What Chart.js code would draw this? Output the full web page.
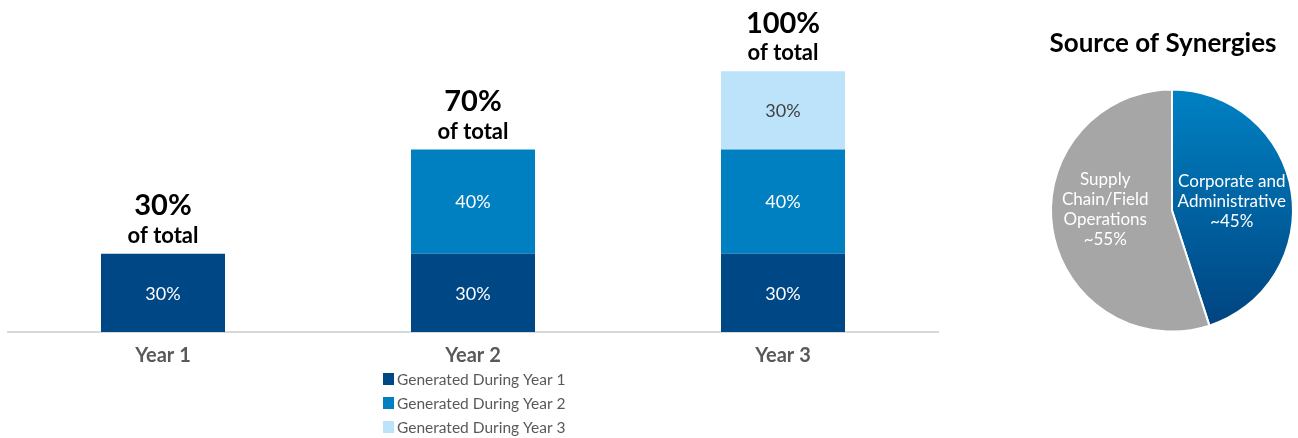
<!DOCTYPE html>
<html>
<head>
<meta charset="utf-8">
<script src="https://cdn.jsdelivr.net/npm/chart.js@4.4.1/dist/chart.umd.min.js"></script>
<style>
  html, body { margin: 0; padding: 0; background: #fff; overflow: hidden; }
  #wrap { position: relative; width: 1298px; height: 438px; }
  #barBox { position: absolute; left: 0; top: 0; width: 960px; height: 438px; }
  #pieBox { position: absolute; left: 1040px; top: 0; width: 258px; height: 438px; }
</style>
</head>
<body>
<div id="wrap">
  <div id="barBox"><canvas id="barChart"></canvas></div>
  <div id="pieBox"><canvas id="pieChart"></canvas></div>
</div>
<script>
  // 数据
  const years = ["Year 1", "Year 2", "Year 3"];
  const seriesNames = ["Generated During Year 1", "Generated During Year 2", "Generated During Year 3"];
  const year1Values = [30, 30, 30];
  const year2Values = [null, 40, 40];
  const year3Values = [null, null, 30];
  const seriesColors = ["#004785", "#0080c0", "#bde3fb"];
  const segmentTextColors = ["#ffffff", "#ffffff", "#404040"];

  const pieTitle = "Source of Synergies";
  const pieLabels = [["Corporate and", "Administrative", "~45%"], ["Supply", "Chain/Field", "Operations", "~55%"]];
  const pieValues = [45, 55];
  const pieLabelNudge = [[0, 0], [-7, -10]];

  const FONT = "Lato, 'Noto Sans', sans-serif";

  // 柱内标签、顶部合计与图例
  const barLabelPlugin = {
    id: "barLabels",
    afterDatasetsDraw(chart) {
      const ctx = chart.ctx;
      ctx.save();
      ctx.textAlign = "center";
      ctx.textBaseline = "middle";
      chart.data.datasets.forEach(function (ds, di) {
        const meta = chart.getDatasetMeta(di);
        meta.data.forEach(function (bar, i) {
          if (ds.data[i] == null) return;
          const c = bar.getCenterPoint();
          ctx.fillStyle = segmentTextColors[di];
          ctx.font = "18px " + FONT;
          ctx.fillText(ds.data[i] + "%", c.x, c.y + 1);
        });
      });

      // 顶部合计
      years.forEach(function (y, i) {
        let total = 0;
        let topY = chart.chartArea.bottom;
        chart.data.datasets.forEach(function (ds, di) {
          if (ds.data[i] == null) return;
          total += ds.data[i];
          const el = chart.getDatasetMeta(di).data[i];
          topY = Math.min(topY, el.y);
        });
        const x = chart.getDatasetMeta(0).data[i].x;
        ctx.fillStyle = "#000000";
        ctx.font = "bold 29px " + FONT;
        ctx.fillText(total + "%", x, topY - 48);
        ctx.font = "bold 22px " + FONT;
        ctx.fillText("of total", x, topY - 18);
      });

      // 图例（竖排）
      ctx.textAlign = "left";
      ctx.font = "15.5px " + FONT;
      chart.data.datasets.forEach(function (ds, di) {
        const ly = 379 + di * 24;
        ctx.fillStyle = ds.backgroundColor;
        ctx.fillRect(383, ly - 6, 11, 12);
        ctx.fillStyle = "#595959";
        ctx.fillText(ds.label, 397, ly + 1);
      });
      ctx.restore();
    },
  };

  new Chart(document.getElementById("barChart"), {
    type: "bar",
    data: {
      labels: years,
      datasets: [
        { label: seriesNames[0], data: year1Values, backgroundColor: seriesColors[0] },
        { label: seriesNames[1], data: year2Values, backgroundColor: seriesColors[1] },
        { label: seriesNames[2], data: year3Values, backgroundColor: seriesColors[2] },
      ],
    },
    options: {
      responsive: true,
      maintainAspectRatio: false,
      animation: false,
      categoryPercentage: 1,
      barPercentage: 0.4,
      layout: { padding: { left: 8, right: 22, top: 6, bottom: 58 } },
      scales: {
        x: {
          stacked: true,
          grid: { display: false, drawTicks: false },
          border: { display: true, color: "#d9d9d9", width: 2 },
          ticks: { color: "#595959", padding: 12, font: { family: FONT, size: 20, weight: "bold" } },
        },
        y: {
          stacked: true,
          display: false,
          min: 0,
          max: 125,
        },
      },
      plugins: {
        legend: { display: false },
        tooltip: { enabled: false },
      },
    },
    plugins: [barLabelPlugin],
  });

  // 饼图标签与标题
  const pieLabelPlugin = {
    id: "pieLabels",
    afterDatasetsDraw(chart) {
      const ctx = chart.ctx;
      ctx.save();
      ctx.textAlign = "center";
      ctx.textBaseline = "middle";
      ctx.fillStyle = "#000000";
      ctx.font = "bold 26px " + FONT;
      ctx.fillText(pieTitle, chart.width / 2 - 6, 44);

      ctx.fillStyle = "#ffffff";
      ctx.font = "17px " + FONT;
      chart.getDatasetMeta(0).data.forEach(function (arc, i) {
        const p = arc.tooltipPosition();
        const lines = pieLabels[i];
        const lh = 20;
        const cx = p.x + pieLabelNudge[i][0];
        const startY = p.y + pieLabelNudge[i][1] - ((lines.length - 1) * lh) / 2;
        lines.forEach(function (t, j) {
          ctx.fillText(t, cx, startY + j * lh);
        });
      });
      ctx.restore();
    },
  };

  new Chart(document.getElementById("pieChart"), {
    type: "pie",
    data: {
      labels: ["Corporate and Administrative", "Supply Chain/Field Operations"],
      datasets: [
        {
          data: pieValues,
          backgroundColor: function (context) {
            if (context.dataIndex === 1) return "#a6a6a6";
            const area = context.chart.chartArea;
            if (!area) return "#0068a8";
            const g = context.chart.ctx.createLinearGradient(0, area.top, 0, area.bottom);
            g.addColorStop(0, "#0082c4");
            g.addColorStop(1, "#00427e");
            return g;
          },
          borderColor: "#ffffff",
          borderWidth: 2,
        },
      ],
    },
    options: {
      responsive: true,
      maintainAspectRatio: false,
      animation: false,
      layout: { padding: { left: 10, right: 4, top: 88, bottom: 105 } },
      plugins: {
        legend: { display: false },
        tooltip: { enabled: false },
      },
    },
    plugins: [pieLabelPlugin],
  });
</script>
</body>
</html>
